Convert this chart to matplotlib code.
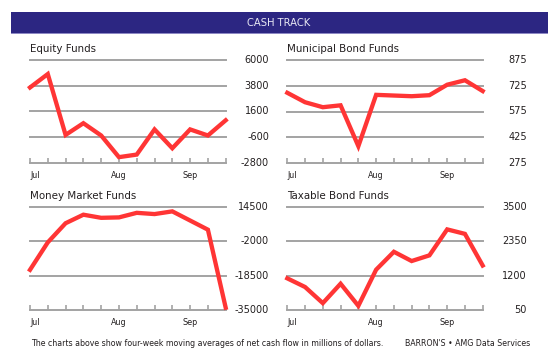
import matplotlib
matplotlib.use("Agg")
import matplotlib.pyplot as plt
from matplotlib.patches import Rectangle

# weekly four-week moving averages, Jul..Sep (12 points each)
weeks = list(range(12))
month_pos = [0, 5, 9]
month_labels = ["Jul", "Aug", "Sep"]

equity = [3650, 4800, -400, 600, -450, -2300, -2080, 70, -1540, 70, -450, 850]
equity_ticks = [-2800, -600, 1600, 3800, 6000]

muni = [684, 629, 600, 611, 373, 672, 668, 664, 670, 731, 757, 694]
muni_ticks = [275, 425, 575, 725, 875]

money = [-15700, -2500, 6700, 10800, 9300, 9500, 11700, 11100, 12400, 8000, 3600, -33900]
money_ticks = [-35000, -18500, -2000, 14500]

taxable = [1110, 820, 280, 930, 190, 1400, 2000, 1690, 1880, 2750, 2600, 1540]
taxable_ticks = [50, 1200, 2350, 3500]

RED = "#ff3535"
GRID = "#a3a3a3"
TXT = "#231f20"
W, H = 560, 361

fig = plt.figure(figsize=(W / 100, H / 100), dpi=100)
fig.patch.set_facecolor("white")

# title bar
fig.add_artist(Rectangle((11 / W, 1 - 34 / H), 537 / W, 22 / H, transform=fig.transFigure,
                         facecolor="#2c2682", edgecolor="none"))
fig.add_artist(Rectangle((11 / W, 1 - 34 / H), 537 / W, 1.2 / H, transform=fig.transFigure,
                         facecolor="#8d88c4", edgecolor="none"))
fig.text(279 / W, 1 - 22.5 / H, "CASH TRACK", color="#e8e8f4", fontsize=7.2,
         ha="center", va="center")


def panel(x0, x1, ytop, ybot, values, ticks, title, label_x):
    ax = fig.add_axes([x0 / W, 1 - ybot / H, (x1 - x0) / W, (ybot - ytop) / H])
    ax.set_xlim(0, 11)
    ax.set_ylim(ticks[0], ticks[-1])
    for t in ticks[1:]:
        ax.axhline(t, color=GRID, lw=1.4, zorder=1, clip_on=False)
    for s in ["top", "left", "right"]:
        ax.spines[s].set_visible(False)
    ax.spines["bottom"].set_color(GRID)
    ax.spines["bottom"].set_linewidth(1.4)
    ax.set_yticks([])
    ax.set_xticks(weeks)
    ax.set_xticklabels([])
    ax.tick_params(axis="x", direction="in", length=3.5, width=1.2, color=GRID)
    for p, lab in zip(month_pos, month_labels):
        ax.text(p, -0.08, lab, transform=ax.get_xaxis_transform(), fontsize=5.8,
                color=TXT, ha="left" if p == 0 else "center", va="top")
    ax.plot(weeks, values, color=RED, lw=3.1, solid_joinstyle="miter", zorder=3, clip_on=False)
    lx = (label_x - x0) / (x1 - x0)
    for t in ticks:
        ax.text(lx, t, f"{t}", transform=ax.get_yaxis_transform(), fontsize=7,
                color=TXT, ha="right", va="center")
    ax.text(0, 1.06, title, transform=ax.transAxes, fontsize=7.4, color=TXT,
            ha="left", va="bottom")
    ax.patch.set_alpha(0)
    return ax


panel(30, 225.7, 60, 163, equity, equity_ticks, "Equity Funds", 269)
panel(287.3, 482.7, 60, 163, muni, muni_ticks, "Municipal Bond Funds", 527)
panel(30, 225.7, 207, 310, money, money_ticks, "Money Market Funds", 269)
panel(287.3, 482.7, 207, 310, taxable, taxable_ticks, "Taxable Bond Funds", 527)

fig.text(31 / W, 1 - 344 / H,
         "The charts above show four-week moving averages of net cash flow in millions of dollars.",
         fontsize=6.35, color=TXT, ha="left", va="center",
         family="DejaVu Sans", fontstretch="condensed")
fig.text(530 / W, 1 - 344 / H, "BARRON'S \u2022 AMG Data Services",
         fontsize=6.35, color=TXT, ha="right", va="center",
         family="DejaVu Sans", fontstretch="condensed")

fig.savefig("out.png", dpi=100)
